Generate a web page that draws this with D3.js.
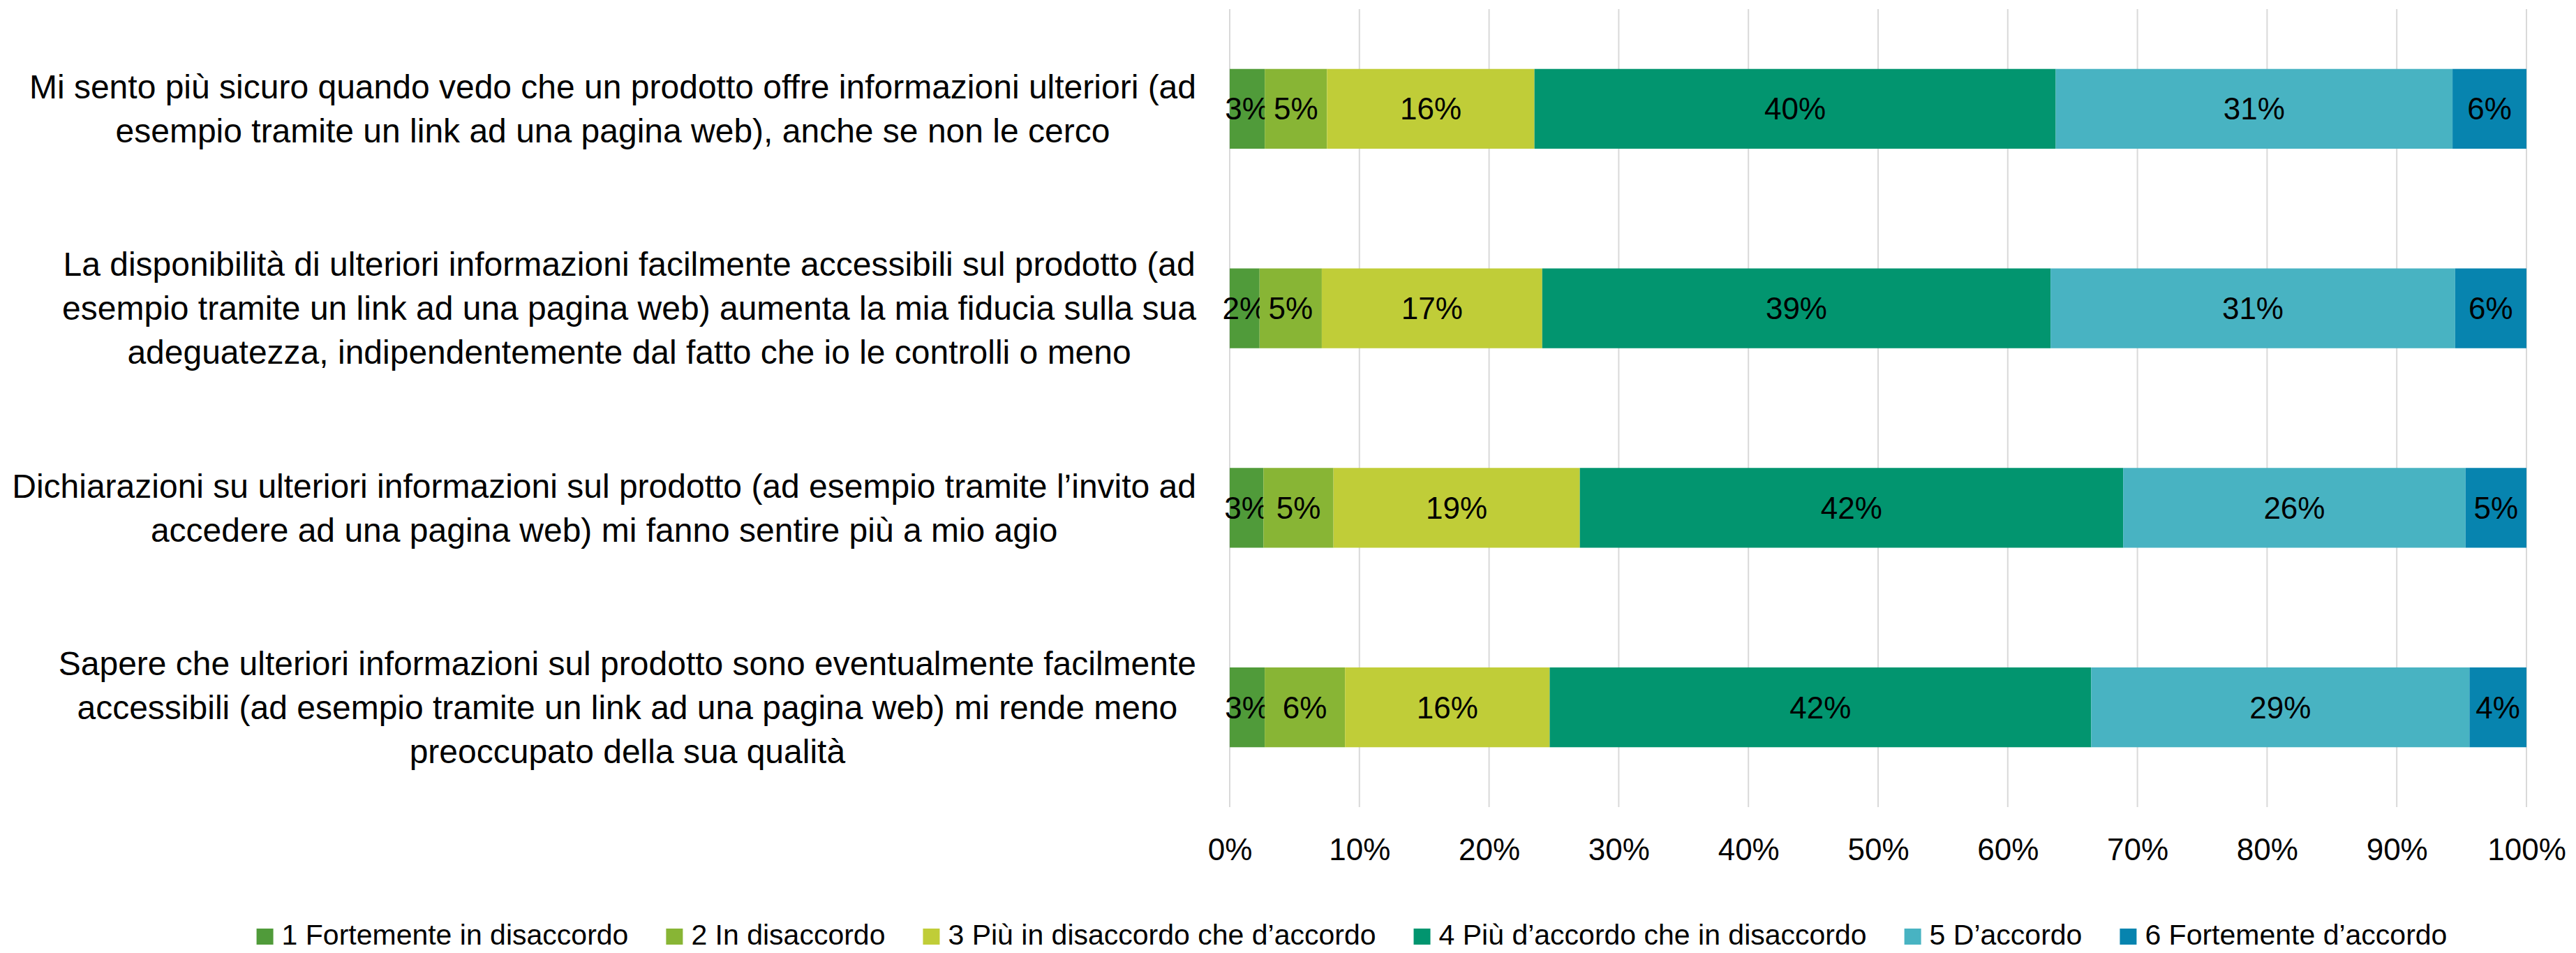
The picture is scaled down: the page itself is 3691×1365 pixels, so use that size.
<!DOCTYPE html>
<html>
<head>
<meta charset="utf-8">
<script src="https://cdn.jsdelivr.net/npm/d3@7"></script>
<style>
  body { margin: 0; background: #fff; }
  text { font-family: "Liberation Sans Narrow", "Arial Narrow", "Liberation Sans", sans-serif; fill: #000; }
</style>
</head>
<body>
<svg id="chart" width="3691" height="1365"></svg>
<script>
// --- data -------------------------------------------------------------
var categories = [
  ["Mi sento più sicuro quando vedo che un prodotto offre informazioni ulteriori (ad",
   "esempio tramite un link ad una pagina web), anche se non le cerco"],
  ["La disponibilità di ulteriori informazioni facilmente accessibili sul prodotto (ad",
   "esempio tramite un link ad una pagina web) aumenta la mia fiducia sulla sua",
   "adeguatezza, indipendentemente dal fatto che io le controlli o meno"],
  ["Dichiarazioni su ulteriori informazioni sul prodotto (ad esempio tramite l’invito ad",
   "accedere ad una pagina web) mi fanno sentire più a mio agio"],
  ["Sapere che ulteriori informazioni sul prodotto sono eventualmente facilmente",
   "accessibili (ad esempio tramite un link ad una pagina web) mi rende meno",
   "preoccupato della sua qualità"]
];

var seriesNames = [
  "1 Fortemente in disaccordo",
  "2 In disaccordo",
  "3 Più in disaccordo che d’accordo",
  "4 Più d’accordo che in disaccordo",
  "5 D’accordo",
  "6 Fortemente d’accordo"
];

// percentages per series, one value per category (top to bottom)
var s1 = [2.7, 2.3, 2.6, 2.7];
var s2 = [4.8, 4.8, 5.4, 6.2];
var s3 = [16.0, 17.0, 19.0, 15.8];
var s4 = [40.2, 39.2, 41.9, 41.8];
var s5 = [30.6, 31.2, 26.4, 29.2];
var s6 = [5.7, 5.5, 4.7, 4.4];

var tickValues = [0, 0.1, 0.2, 0.3, 0.4, 0.5, 0.6, 0.7, 0.8, 0.9, 1];

var colors = ["#509B3A", "#88B535", "#C0CD38", "#02956F", "#48B3C2", "#0784AF"];

// --- layout -----------------------------------------------------------
var svg = d3.select("#chart");
var margin = { left: 1762, right: 71, top: 13, bottom: 209 };
var width = 3691 - margin.left - margin.right;
var height = 1365 - margin.top - margin.bottom;

var allSeries = [s1, s2, s3, s4, s5, s6];
var rows = categories.map(function(c, i) {
  var r = { idx: i };
  seriesNames.forEach(function(n, j) { r[n] = allSeries[j][i]; });
  return r;
});

var stacked = d3.stack()
  .keys(seriesNames)
  .offset(d3.stackOffsetExpand)(rows);

var x = d3.scaleLinear().domain([0, 1]).range([0, width]);
var y = d3.scaleBand()
  .domain(d3.range(categories.length))
  .range([0, height])
  .paddingInner(0.6)
  .paddingOuter(0.3);
var color = d3.scaleOrdinal().domain(seriesNames).range(colors);

var g = svg.append("g")
  .attr("transform", "translate(" + margin.left + "," + margin.top + ")");

// gridlines
g.append("g")
  .selectAll("line")
  .data(tickValues)
  .enter()
  .append("line")
  .attr("x1", function(d) { return x(d); })
  .attr("x2", function(d) { return x(d); })
  .attr("y1", 0)
  .attr("y2", height)
  .attr("stroke", "#D9D9D9")
  .attr("stroke-width", 2);

// bars
var layers = g.selectAll("g.layer")
  .data(stacked)
  .enter()
  .append("g")
  .attr("class", "layer")
  .attr("fill", function(d) { return color(d.key); });

layers.selectAll("rect")
  .data(function(d) { return d; })
  .enter()
  .append("rect")
  .attr("x", function(d) { return x(d[0]); })
  .attr("y", function(d, i) { return y(i); })
  .attr("width", function(d) { return x(d[1]) - x(d[0]); })
  .attr("height", y.bandwidth());

// data labels
layers.selectAll("text")
  .data(function(d) { return d.map(function(p) { return { p: p, key: d.key }; }); })
  .enter()
  .append("text")
  .attr("x", function(d) { return (x(d.p[0]) + x(d.p[1])) / 2; })
  .attr("y", function(d, i) { return y(i) + y.bandwidth() / 2; })
  .attr("dy", "0.35em")
  .attr("text-anchor", "middle")
  .style("font-size", "44px")
  .text(function(d) { return Math.round(d.p.data[d.key]) + "%"; });

// x axis (labels only)
var xAxis = d3.axisBottom(x)
  .tickValues(tickValues)
  .tickFormat(d3.format(".0%"))
  .tickSize(0)
  .tickPadding(0);

var ax = g.append("g")
  .attr("transform", "translate(0," + (height + 61) + ")")
  .call(xAxis);
ax.select(".domain").remove();
ax.attr("font-family", null).attr("font-size", null);
ax.selectAll("text")
  .attr("y", 0)
  .attr("dy", "0.35em")
  .style("font-size", "44px")
  .attr("fill", "#000");

// category labels: lines centred on each other, block right-aligned to axis
var labelRight = -48;
var lineH = 63;
var catG = g.append("g");
categories.forEach(function(lines, i) {
  var t = catG.append("g");
  var cy = y(i) + y.bandwidth() / 2;
  var texts = lines.map(function(line, k) {
    return t.append("text")
      .attr("y", cy + (k - (lines.length - 1) / 2) * lineH)
      .attr("dy", "0.35em")
      .attr("text-anchor", "middle")
      .style("font-size", "48px")
      .text(line);
  });
  var maxW = d3.max(texts, function(tx) { return tx.node().getComputedTextLength(); });
  texts.forEach(function(tx) { tx.attr("x", labelRight - maxW / 2); });
});

// legend
var legend = svg.append("g");
var lx = 0;
seriesNames.forEach(function(name, j) {
  var item = legend.append("g").attr("transform", "translate(" + lx + ",0)");
  item.append("rect")
    .attr("x", 0).attr("y", -23)
    .attr("width", 24).attr("height", 23)
    .attr("fill", colors[j]);
  var tx = item.append("text")
    .attr("x", 36)
    .attr("y", 0)
    .style("font-size", "41px")
    .text(name);
  lx += 36 + tx.node().getComputedTextLength() + 54;
});
lx -= 54;
legend.attr("transform", "translate(" + (1937 - lx / 2) + ",1353)");
</script>
</body>
</html>
